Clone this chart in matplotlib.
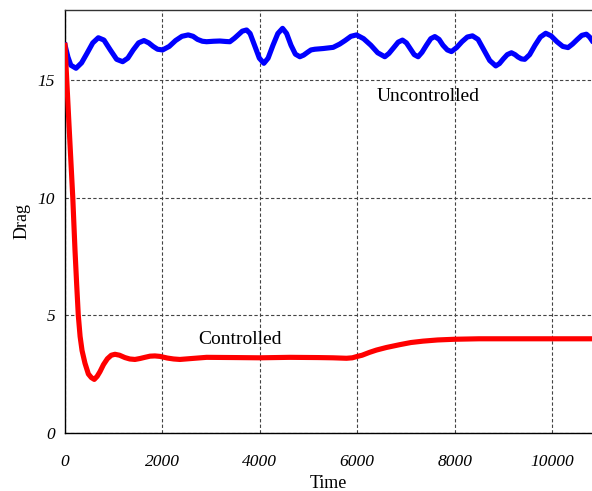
import matplotlib
matplotlib.use("Agg")
import matplotlib.pyplot as plt

# Uncontrolled drag (blue)
t_unc = [0, 60, 120, 226, 340, 450, 570, 684, 800, 930, 1060, 1184, 1290, 1400, 1510, 1621,
         1720, 1810, 1900, 2004, 2140, 2270, 2400, 2530, 2630, 2720, 2820, 2907, 3050, 3180,
         3300, 3385, 3480, 3560, 3640, 3728, 3800, 3900, 3990, 4083, 4170, 4270, 4370, 4467,
         4550, 4640, 4730, 4822, 4900, 4980, 5050, 5130, 5300, 5506, 5640, 5750, 5870, 5985,
         6130, 6280, 6420, 6566, 6650, 6750, 6840, 6929, 7010, 7090, 7170, 7250, 7330, 7420,
         7510, 7593, 7680, 7760, 7850, 7935, 8040, 8150, 8260, 8366, 8480, 8600, 8720, 8844,
         8920, 9000, 9080, 9166, 9240, 9300, 9370, 9439, 9540, 9650, 9760, 9870, 9980, 10100,
         10220, 10328, 10420, 10520, 10610, 10705, 10770, 10820]
d_unc = [16.51, 16.0, 15.65, 15.52, 15.75, 16.15, 16.6, 16.82, 16.72, 16.3, 15.9, 15.80, 15.95,
         16.3, 16.6, 16.70, 16.6, 16.45, 16.33, 16.30, 16.45, 16.7, 16.88, 16.94, 16.88, 16.75,
         16.67, 16.65, 16.67, 16.68, 16.66, 16.65, 16.8, 16.95, 17.1, 17.15, 17.0, 16.45, 15.95,
         15.73, 15.95, 16.5, 17.0, 17.22, 17.0, 16.5, 16.12, 16.01, 16.08, 16.2, 16.3, 16.33,
         16.36, 16.41, 16.55, 16.7, 16.88, 16.94, 16.78, 16.5, 16.18, 16.01, 16.15, 16.4, 16.63,
         16.72, 16.6, 16.35, 16.1, 16.01, 16.2, 16.5, 16.78, 16.87, 16.75, 16.5, 16.3, 16.23,
         16.4, 16.65, 16.85, 16.90, 16.75, 16.3, 15.85, 15.62, 15.72, 15.92, 16.1, 16.18, 16.1,
         16.0, 15.92, 15.90, 16.1, 16.5, 16.85, 17.01, 16.9, 16.65, 16.45, 16.40, 16.55, 16.75,
         16.92, 16.97, 16.85, 16.7]

# Controlled drag (red)
t_con = [0, 80, 160, 205, 240, 273, 310, 350, 410, 480, 540, 601, 660, 718, 790, 870, 950,
         1026, 1120, 1230, 1330, 1436, 1540, 1640, 1746, 1846, 1950, 2100, 2230, 2359, 2600,
         2907, 3500, 4000, 4617, 5200, 5500, 5780, 5900, 5985, 6100, 6250, 6395, 6600, 6874,
         7100, 7352, 7650, 7997, 8500, 9500, 10820]
d_con = [16.5, 13.2, 10.0, 7.78, 6.3, 5.0, 4.1, 3.5, 2.96, 2.5, 2.35, 2.27, 2.4, 2.6, 2.9, 3.15,
         3.3, 3.34, 3.3, 3.2, 3.14, 3.12, 3.16, 3.21, 3.26, 3.27, 3.25, 3.18, 3.14, 3.12, 3.16,
         3.21, 3.2, 3.19, 3.21, 3.2, 3.19, 3.17, 3.19, 3.24, 3.3, 3.42, 3.52, 3.63, 3.75, 3.84,
         3.9, 3.95, 3.98, 4.0, 4.0, 4.0]

xticks = [0, 2000, 4000, 6000, 8000, 10000]
yticks = [0, 5, 10, 15]

plt.rcParams['font.family'] = ['Liberation Serif', 'DejaVu Serif']

fig = plt.figure(figsize=(5.92, 4.91), dpi=100)
ax = fig.add_axes([0.1098, 0.1187, 0.8902, 0.8609])

ax.plot(t_unc, d_unc, color='#0000ff', lw=3.7, solid_joinstyle='round', zorder=3)
ax.plot(t_con, d_con, color='#ff0000', lw=3.7, solid_joinstyle='round', zorder=3)

ax.set_xlim(0, 10820)
ax.set_ylim(0, 18)
ax.set_xticks(xticks)
ax.set_yticks(yticks)
ax.set_xticklabels([str(v) for v in xticks], fontstyle='italic', fontsize=12.5)
ax.set_yticklabels([str(v) for v in yticks], fontstyle='italic', fontsize=12.5)
ax.tick_params(axis='both', length=0)
ax.tick_params(axis='x', pad=15)
ax.tick_params(axis='y', pad=7)

ax.grid(True, color='#444444', linestyle=(0, (3, 2)), linewidth=0.8, zorder=1)

ax.spines['right'].set_visible(False)
ax.spines['top'].set_color('#333333')
ax.spines['left'].set_color('black')
ax.spines['bottom'].set_color('black')
for s in ax.spines.values():
    s.set_linewidth(1.0)

ax.text(7450, 14.3, 'Uncontrolled', fontsize=14, ha='center', va='center')
ax.text(3590, 3.95, 'Controlled', fontsize=14, ha='center', va='center')

ax.set_xlabel('Time', fontsize=13, labelpad=4)
ax.set_ylabel('Drag', fontsize=13, labelpad=5)

fig.savefig('out.png', dpi=100)
